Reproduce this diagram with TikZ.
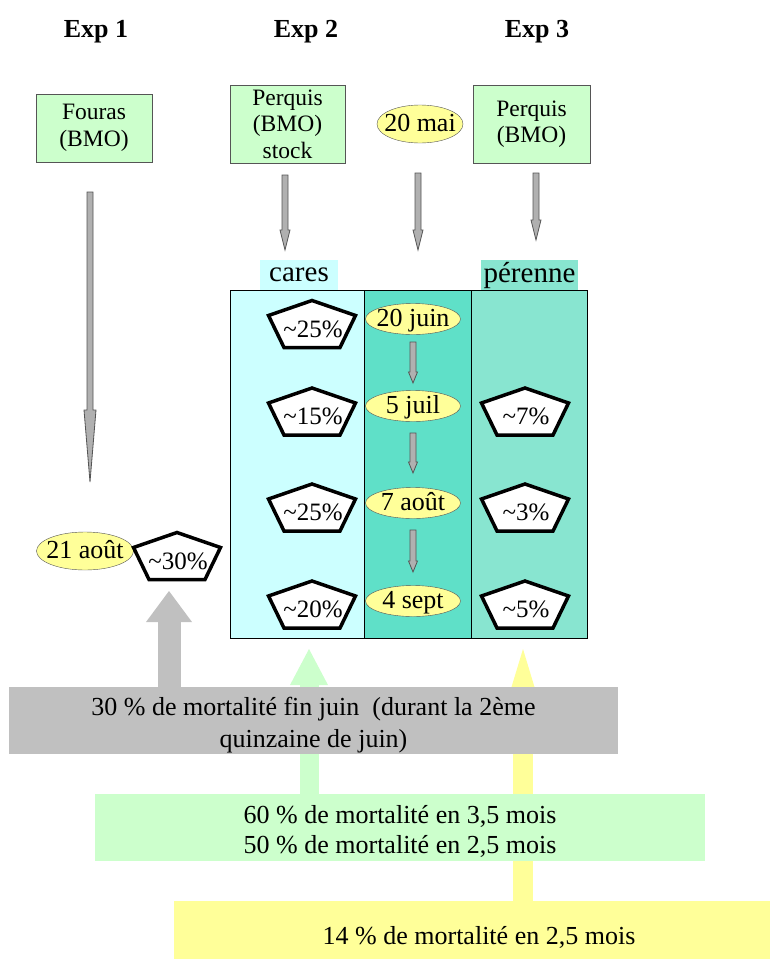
\documentclass[tikz,border=0pt]{standalone}
\usepackage{fontspec}
\setmainfont{Liberation Serif}
\usetikzlibrary{shapes.geometric, arrows.meta, positioning, calc, backgrounds}

\definecolor{srcgreen}{HTML}{CCFFCC}
\definecolor{dateyellow}{HTML}{FFFF99}
\definecolor{carescyan}{HTML}{CCFFFF}
\definecolor{midteal}{HTML}{5FE0C8}
\definecolor{perteal}{HTML}{88E5D0}
\definecolor{notegray}{HTML}{C0C0C0}
\definecolor{arrowgray}{HTML}{B0B0B0}
\definecolor{edgegray}{HTML}{555555}

% thin block arrow pointing down: start, tip, head length, half head width
\newcommand{\thinarrow}[4]{%
  \filldraw[thinarr] ($(#1)+(-3,0)$) -- ($(#2)+(-3,-#3)$) -- ($(#2)+(-#4,-#3)$) -- (#2)
    -- ($(#2)+(#4,-#3)$) -- ($(#2)+(3,-#3)$) -- ($(#1)+(3,0)$) -- cycle;}

% flat pentagon with a mortality value: name, centre, text
\newcommand{\mortpent}[3]{%
  \coordinate (#1) at #2;
  \filldraw[pentline] ($(#1)+(0,-23.5)$) -- ($(#1)+(43.5,-8.5)$) -- ($(#1)+(28,23.5)$)
    -- ($(#1)+(-28,23.5)$) -- ($(#1)+(-43.5,-8.5)$) -- cycle;
  \node[pcttext] (#1txt) at ($(#1)+(1,5)$) {#3};}

\begin{document}
\begin{tikzpicture}[
    x=1pt, y=-1pt,
    title/.style={font=\fontsize{26}{30}\selectfont\bfseries},
    source/.style={rectangle, draw=edgegray, fill=srcgreen, align=center, inner sep=0pt, font=\fontsize{23.5}{26.5}\selectfont},
    date/.style={ellipse, draw=edgegray, fill=dateyellow, inner xsep=-8pt, inner ysep=-4pt,
      text height=19pt, text depth=4pt, font=\fontsize{26}{28}\selectfont},
    column/.style={rectangle, draw=black, line width=0.6pt, inner sep=0pt, minimum height=348pt},
    colhead/.style={rectangle, inner sep=0pt, minimum height=30pt, font=\fontsize{29}{32}\selectfont},
    pentline/.style={draw=black, fill=white, line width=3.5pt, line join=miter},
    pcttext/.style={inner sep=0pt, font=\fontsize{25}{28}\selectfont},
    thinarr/.style={draw=edgegray, fill=arrowgray, line width=0.8pt},
    note/.style={rectangle, inner sep=0pt, align=center, font=\fontsize{26}{32}\selectfont},
    grayup/.style={draw=notegray, line width=23pt, -{Triangle[width=46pt, length=31pt, line width=0pt]}},
    greenup/.style={draw=srcgreen, line width=19pt, -{Triangle[width=38pt, length=36pt, line width=0pt]}},
    yellowup/.style={draw=dateyellow, line width=20pt, -{Triangle[width=23pt, length=38pt, line width=0pt]}}
  ]
  \useasboundingbox (0,0) rectangle (769,959);

  % titles
  \node[title] (exp1) at (96,32) {Exp 1};
  \node[title] (exp2) at (306,32) {Exp 2};
  \node[title] (exp3) at (537,32) {Exp 3};

  % sources
  \node[source, minimum width=116pt, minimum height=68pt] (fouras) at (94,128) {Fouras\\(BMO)};
  \node[source, minimum width=115pt, minimum height=78pt] (stock) at (287.5,124) {Perquis\\(BMO)\\stock};
  \node[date, minimum width=86pt, minimum height=38pt] (mai) at (420,124) {20 mai};
  \node[source, minimum width=117pt, minimum height=78pt] (perquis) at (531.5,124) {Perquis\\(BMO)};

  % table
  \node[colhead, fill=carescyan, minimum width=78pt] (careslbl) at (299,275) {cares};
  \node[colhead, fill=perteal, minimum width=97pt] (perennelbl) at (529.5,275) {pérenne};
  \node[column, fill=carescyan, minimum width=134pt] (cares) at (297,464) {};
  \node[column, fill=midteal, minimum width=107pt] (dates) at (417.5,464) {};
  \node[column, fill=perteal, minimum width=116pt] (perenne) at (529,464) {};

  % dates
  \node[date, minimum width=95pt, minimum height=31pt] (juin) at (413,319) {20 juin};
  \node[date, minimum width=95pt, minimum height=31pt] (juil) at (413,406) {5 juil};
  \node[date, minimum width=95pt, minimum height=31pt] (aout) at (413,503) {7 août};
  \node[date, minimum width=95pt, minimum height=31pt] (sept) at (413,601) {4 sept};
  \node[date, minimum width=97pt, minimum height=38pt] (aout21) at (85,551) {21 août};

  % arrows from sources
  \coordinate (fa) at (90,192);  \coordinate (fb) at (90,482);
  \coordinate (sa) at (285,175); \coordinate (sb) at (285,250);
  \coordinate (ma) at (418,173); \coordinate (mb) at (418,250);
  \coordinate (pa) at (536,173); \coordinate (pb) at (536,240);
  \thinarrow{fa}{fb}{72}{6}
  \thinarrow{sa}{sb}{20}{5}
  \thinarrow{ma}{mb}{20}{5}
  \thinarrow{pa}{pb}{20}{5}

  % arrows between dates
  \coordinate (ja) at (413,342); \coordinate (jb) at (413,383);
  \coordinate (ka) at (413,433); \coordinate (kb) at (413,473);
  \coordinate (la) at (413,530); \coordinate (lb) at (413,572);
  \thinarrow{ja}{jb}{11}{4.5}
  \thinarrow{ka}{kb}{11}{4.5}
  \thinarrow{la}{lb}{11}{4.5}

  % mortality
  \mortpent{c1}{(312,324)}{\textasciitilde 25\%}
  \mortpent{c2}{(312,411.5)}{\textasciitilde 15\%}
  \mortpent{c3}{(312,507.5)}{\textasciitilde 25\%}
  \mortpent{c4}{(312,604.5)}{\textasciitilde 20\%}
  \mortpent{p2}{(525,411.5)}{\textasciitilde 7\%}
  \mortpent{p3}{(525,507.5)}{\textasciitilde 3\%}
  \mortpent{p4}{(525,604.5)}{\textasciitilde 5\%}
  \mortpent{f1}{(177,556)}{\textasciitilde 30\%}

  % notes
  \node[note, fill=notegray, minimum width=609pt, minimum height=67pt] (graynote) at (313.5,720.5)
    {\rule{0pt}{28pt}30 \% de mortalité fin juin\ \ (durant la 2ème\\quinzaine de juin)};
  \node[note, fill=srcgreen, minimum width=610pt, minimum height=67pt, font=\fontsize{26}{30}\selectfont] (greennote) at (400,827.5)
    {\rule{0pt}{25pt}60 \% de mortalité en 3,5 mois\\50 \% de mortalité en 2,5 mois};
  \node[note, fill=dateyellow, minimum width=610pt, minimum height=72pt] (yellownote) at (479,937)
    {14 \% de mortalité en 2,5 mois};

  \coordinate (graytip) at (169,591);
  \coordinate (greentip) at (309,649);
  \coordinate (yellowtip) at (523,649);
  \begin{scope}[on background layer]
    \draw[grayup] (graynote.north -| graytip) -- (graytip);
    \draw[greenup] (greennote.north -| greentip) -- (greentip);
    \draw[yellowup] (yellownote.north -| yellowtip) -- (yellowtip);
  \end{scope}
\end{tikzpicture}
\end{document}
